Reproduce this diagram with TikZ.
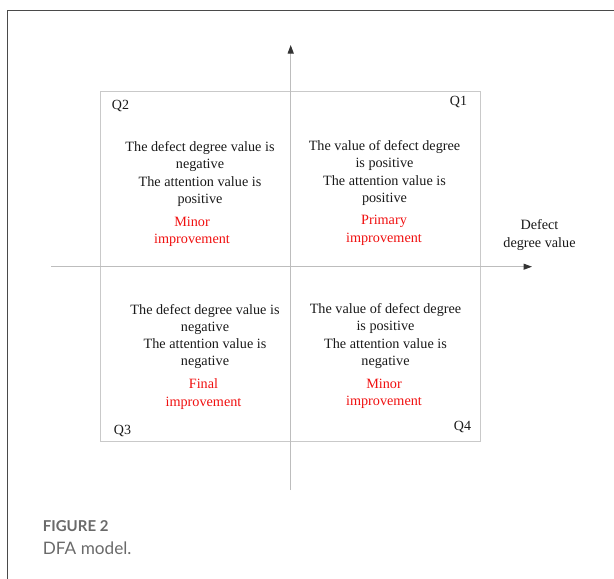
\documentclass[tikz,border=0pt]{standalone}
\usepackage{fontspec}
\setmainfont{Liberation Serif}
\newfontfamily\capfont{Lato}
\usetikzlibrary{arrows.meta}
\definecolor{framegray}{HTML}{4A4A4A}
\definecolor{axisgray}{HTML}{BDBDBD}
\definecolor{boxgray}{HTML}{C9C9C9}
\definecolor{tipgray}{HTML}{333333}
\definecolor{capgray}{HTML}{6A6A6A}
\definecolor{labelred}{HTML}{F01010}
\tikzset{
  body/.style={align=center, inner sep=0pt, font=\fontsize{14.2}{17.3}\selectfont, text=black!90},
  verdict/.style={body, text=labelred},
  qlabel/.style={inner sep=0pt, font=\fontsize{14}{17}\selectfont, text=black!90},
  axis/.style={draw=axisgray, line width=1pt, -{Triangle[length=8.5pt,width=6pt,color=tipgray]}},
}
\begin{document}
\begin{tikzpicture}[x=1pt,y=-1pt]
\useasboundingbox (0,0) rectangle (614,579);
% outer panel frame
\draw[framegray, line width=1.4pt] (7.3,579) -- (7.3,10.3) -- (614,10.3);

% quadrant box
\draw[boxgray, line width=1pt] (100.7,91.5) rectangle (480.7,441.7);

% axes
\coordinate (xl) at (51,266.7);
\coordinate (xr) at (532,266.7);
\coordinate (yb) at (290.7,490);
\coordinate (yt) at (290.7,45);
\draw[axis] (xl) -- (xr);
\draw[axis] (yb) -- (yt);

% quadrant names
\node[qlabel] (q2) at (120.5,106) {Q2};
\node[qlabel] (q1) at (458.5,102) {Q1};
\node[qlabel] (q3) at (122.5,430.5) {Q3};
\node[qlabel] (q4) at (462.5,427) {Q4};

% quadrant descriptions
\node[body] (d2) at (200,174) {The defect degree value is\\negative\\The attention value is\\positive};
\node[verdict] (v2) at (192,232) {Minor\\improvement};

\node[body] (d1) at (384.5,173) {The value of defect degree\\is positive\\The attention value is\\positive};
\node[verdict] (v1) at (384,230.3) {Primary\\improvement};

\node[body] (d3) at (205,336.5) {The defect degree value is\\negative\\The attention value is\\negative};
\node[verdict] (v3) at (203.5,394) {Final\\improvement};

\node[body] (d4) at (385.5,336) {The value of defect degree\\is positive\\The attention value is\\negative};
\node[verdict] (v4) at (384,394) {Minor\\improvement};

% axis name
\node[body] (xname) at (539.5,235) {Defect\\degree value};

% caption
\node[anchor=base west, inner sep=0pt, text=capgray, font=\capfont\bfseries\fontsize{15}{18}\selectfont] (fig) at (42.7,531.2) {FIGURE 2};
\node[anchor=base west, inner sep=0pt, text=capgray, font=\capfont\fontsize{17.2}{20}\selectfont] (cap) at (42.7,554.5) {DFA model.};
\end{tikzpicture}
\end{document}
